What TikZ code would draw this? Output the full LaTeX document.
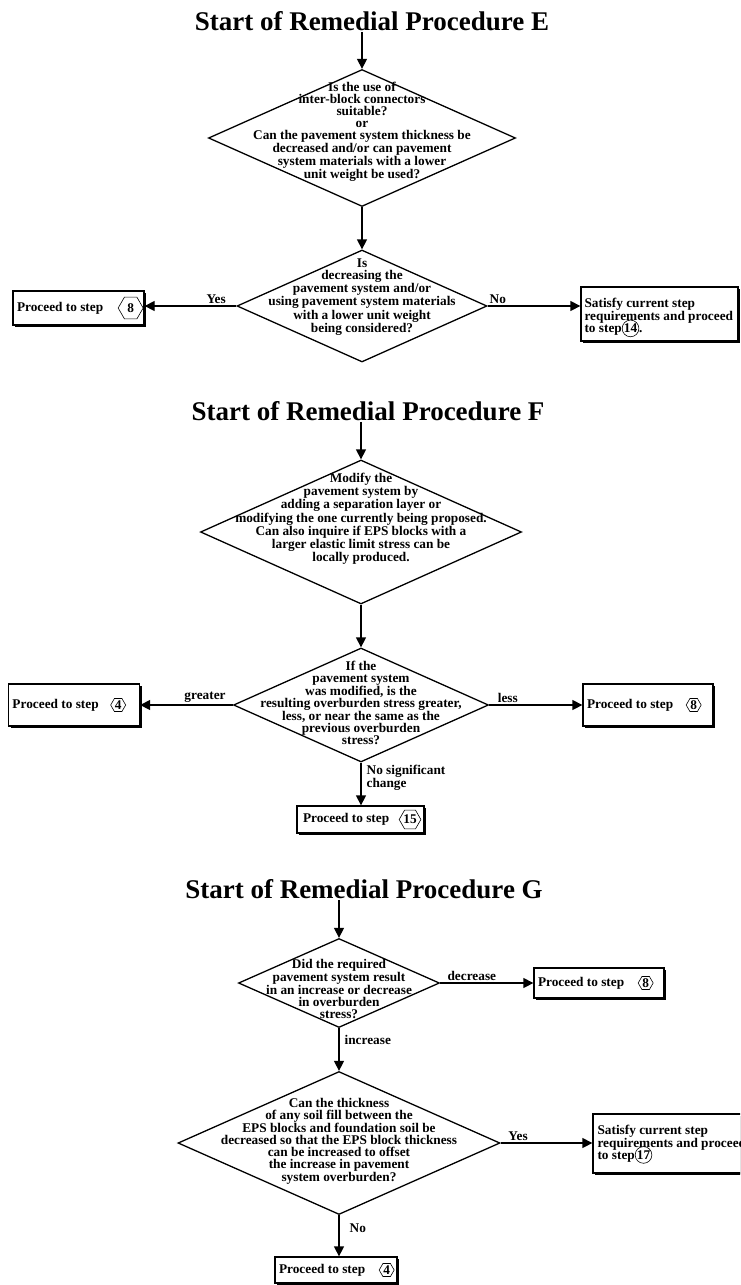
\documentclass[tikz,border=0pt]{standalone}
\usepackage{fontspec}
\setmainfont{Liberation Serif}
\usetikzlibrary{shapes.geometric,arrows.meta,shadows,positioning}

\newcommand{\stepcirc}[1]{\smash{\tikz[baseline=(c.base)]\node[circle,draw,line width=0.6pt,inner sep=0.3pt] (c) {#1};}}

\begin{document}
\begin{tikzpicture}[x=1pt,y=-1pt,>={Triangle[length=10pt,width=10pt]},line width=1.3pt,
  headline/.style={font=\fontsize{27}{30}\selectfont\bfseries,inner sep=1pt,anchor=base},
  decision/.style={diamond,draw,inner sep=0pt},
  dtext/.style={align=center,font=\fontsize{13.3}{12}\selectfont\bfseries,inner sep=0pt},
  stepbox/.style={draw,fill=white,inner sep=0pt,drop shadow={shadow xshift=2pt,shadow yshift=-2pt,fill=black,opacity=1}},
  stepno/.style={draw,regular polygon,regular polygon sides=6,inner sep=0pt,minimum size=15pt,line width=0.6pt,font=\fontsize{13.3}{12}\selectfont\bfseries},
  lbl/.style={font=\fontsize{13.3}{12}\selectfont\bfseries,inner sep=1pt}]
\clip (0,0) rectangle (740,1285);

% Procedure E
\node[headline] (te) at (372,30) {Start of Remedial Procedure E};
\node[decision,minimum width=307pt,minimum height=137pt] (e1) at (362,138) {};
\node[dtext] (e1t) at (362,132) {Is the use of\\inter-block connectors\\suitable?\\or\\Can the pavement system thickness be\\decreased and/or can pavement\\system materials with a lower\\unit weight be used?};
\node[decision,minimum width=250pt,minimum height=112pt] (e2) at (362,306) {};
\node[dtext] (e2t) at (362,297) {Is\\decreasing the\\pavement system and/or\\using pavement system materials\\with a lower unit weight\\being considered?};
\node[stepbox,minimum width=131pt,minimum height=34pt] (eb8) at (78.5,308) {};
\node[lbl,anchor=west] (eb8t) at ([xshift=3pt]eb8.west) {Proceed to step};
\node[stepno,minimum size=25pt,right=13pt of eb8t] (eb8n) {8};
\node[stepbox,minimum width=157pt,minimum height=54pt] (eb14) at (659.5,314) {};
\node[lbl,anchor=west,align=left] (eb14t) at ([xshift=3pt,yshift=-3pt]eb14.west) {Satisfy current step\\requirements and proceed\\to step\stepcirc{14}.};
\draw[->] (te.south -| e1.north) -- (e1.north);
\draw[->] (e1.south) -- (e2.north);
\draw[->] (e2.west) -- (e2.west -| eb8.east) node[lbl,pos=0.22,above=1pt] {Yes};
\draw[->] (e2.east) -- (e2.east -| eb14.west) node[lbl,pos=0.11,above=1pt] {No};

% Procedure F
\node[headline] (tf) at (368,420) {Start of Remedial Procedure F};
\node[decision,minimum width=321pt,minimum height=144pt] (f1) at (361,532) {};
\node[dtext] (f1t) at (361,519) {Modify the\\pavement system by\\adding a separation layer or\\modifying the one currently being proposed.\\Can also inquire if EPS blocks with a\\larger elastic limit stress can be\\locally produced.};
\node[decision,minimum width=255pt,minimum height=114pt] (f2) at (361,705) {};
\node[dtext] (f2t) at (361,703) {If the\\pavement system\\was modified, is the\\resulting overburden stress greater,\\less, or near the same as the\\previous overburden\\stress?};
\node[stepbox,minimum width=131pt,minimum height=42pt] (fb4) at (74,705) {};
\node[lbl,anchor=west] (fb4t) at ([xshift=3pt]fb4.west) {Proceed to step};
\node[stepno,right=10pt of fb4t] (fb4n) {4};
\node[stepbox,minimum width=130pt,minimum height=42pt] (fb8) at (648,705) {};
\node[lbl,anchor=west] (fb8t) at ([xshift=3pt]fb8.west) {Proceed to step};
\node[stepno,right=11pt of fb8t] (fb8n) {8};
\node[stepbox,minimum width=127pt,minimum height=27pt] (fb15) at (360.5,819.5) {};
\node[lbl,anchor=west] (fb15t) at ([xshift=5pt]fb15.west) {Proceed to step};
\node[stepno,right=8pt of fb15t] (fb15n) {15};
\draw[->] (tf.south -| f1.north) -- (f1.north);
\draw[->] (f1.south) -- (f2.north);
\draw[->] (f2.west) -- (f2.west -| fb4.east) node[lbl,pos=0.3,above=1pt] {greater};
\draw[->] (f2.east) -- (f2.east -| fb8.west) node[lbl,pos=0.2,above=1pt] {less};
\draw[->] (f2.south) -- (f2.south |- fb15.north) node[lbl,pos=0.35,right=4pt,align=left] {No significant\\change};

% Procedure G
\node[headline] (tg) at (364,898) {Start of Remedial Procedure G};
\node[decision,minimum width=201pt,minimum height=89pt] (g1) at (339,983) {};
\node[dtext] (g1t) at (339,989) {Did the required\\pavement system result\\in an increase or decrease\\in overburden\\stress?};
\node[decision,minimum width=322pt,minimum height=143pt] (g2) at (339,1143) {};
\node[dtext] (g2t) at (339,1141) {Can the thickness\\of any soil fill between the\\EPS blocks and foundation soil be\\decreased so that the EPS block thickness\\can be increased to offset\\the increase in pavement\\system overburden?};
\node[stepbox,minimum width=130pt,minimum height=30pt] (gb8) at (599,983) {};
\node[lbl,anchor=west] (gb8t) at ([xshift=3pt]gb8.west) {Proceed to step};
\node[stepno,right=12pt of gb8t] (gb8n) {8};
\node[stepbox,minimum width=157pt,minimum height=59pt] (gb17) at (671.5,1143.5) {};
\node[lbl,anchor=west,align=left] (gb17t) at ([xshift=4pt]gb17.west) {Satisfy current step\\requirements and proceed\\to step\stepcirc{17}};
\node[stepbox,minimum width=122pt,minimum height=26pt] (gb4) at (336,1270) {};
\node[lbl,anchor=west] (gb4t) at ([xshift=3pt]gb4.west) {Proceed to step};
\node[stepno,right=12pt of gb4t] (gb4n) {4};
\draw[->] (tg.south -| g1.north) -- (g1.north);
\draw[->] (g1.east) -- (g1.east -| gb8.west) node[lbl,pos=0.34,above=1pt] {decrease};
\draw[->] (g1.south) -- (g2.north) node[lbl,pos=0.27,right=4pt] {increase};
\draw[->] (g2.east) -- (g2.east -| gb17.west) node[lbl,pos=0.19,above=1pt] {Yes};
\draw[->] (g2.south) -- (g2.south |- gb4.north) node[lbl,pos=0.31,right=9pt] {No};
\end{tikzpicture}
\end{document}
